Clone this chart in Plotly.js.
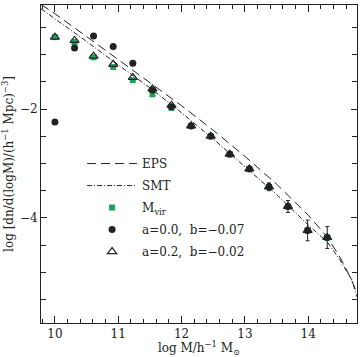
<!DOCTYPE html>
<html><head><meta charset="utf-8">
<script src="https://cdn.plot.ly/plotly-3.0.1.min.js"></script>
<style>body{margin:0;background:#fff}#c{width:363px;height:357px}</style>
</head><body><div id="c"></div>
<script>
// data
const massBins = [10.0, 10.31, 10.61, 10.92, 11.23, 11.54, 11.84, 12.15, 12.46, 12.76, 13.07, 13.38, 13.68, 13.99, 14.30];
const mvirVals = [-0.68, -0.77, -1.05, -1.23, -1.47, -1.73, -1.98, -2.31, -2.50, -2.83, -3.10, -3.43, -3.79, -4.23, -4.36];
const circVals = [-2.24, -0.88, -0.66, -0.85, -1.16, -1.65, -1.96, -2.31, -2.50, -2.83, -3.10, -3.43, -3.79, -4.23, -4.36];
const triVals  = [-0.68, -0.74, -1.03, -1.18, -1.42, -1.63, -1.93, -2.31, -2.50, -2.83, -3.10, -3.43, -3.79, -4.23, -4.36];
const errVals  = [0, 0, 0, 0, 0, 0, 0, 0, 0, 0, 0, 0.07, 0.11, 0.19, 0.20];

const epsX = [9.78, 10.0, 10.5, 11.0, 11.5, 12.0, 12.5, 13.0, 13.5, 14.0, 14.3, 14.5, 14.66, 14.77];
const epsY = [-0.08, -0.25, -0.67, -1.09, -1.51, -1.94, -2.39, -2.87, -3.38, -3.95, -4.35, -4.72, -5.08, -5.38];
const smtX = [9.78, 10.0, 10.5, 11.0, 11.5, 12.0, 12.5, 13.0, 13.5, 14.0, 14.3, 14.5, 14.69, 14.77];
const smtY = [-0.16, -0.34, -0.76, -1.19, -1.61, -2.07, -2.55, -3.06, -3.57, -4.13, -4.44, -4.77, -5.14, -5.45];

const xTickVals = [10, 11, 12, 13, 14];
const yTickVals = [-4, -2];
const yTickText = ['\u22124', '\u22122'];

const ink = '#222';
const green = '#1fa35a';
const font = 'DejaVu Serif';

const traces = [
  {x: epsX, y: epsY, mode: 'lines', name: 'EPS', legendgroup: 'a', legendrank: 1,
   line: {color: ink, width: 1, dash: '9px,5px'}},
  {x: smtX, y: smtY, mode: 'lines', name: 'SMT', legendgroup: 'b', legendrank: 2,
   line: {color: ink, width: 1, dash: '5px,2px,1px,2px'}},
  {x: massBins, y: mvirVals, mode: 'markers', name: 'M<sub>vir</sub>', legendgroup: 'c', legendrank: 3,
   marker: {symbol: 'square', size: 6, color: green}},
  {x: massBins, y: triVals, mode: 'markers', name: 'a=0.2,  b=\u22120.02', legendgroup: 'e', legendrank: 5,
   marker: {symbol: 'triangle-up-open', size: 8, color: ink, line: {width: 1.2}}},
  {x: massBins, y: circVals, mode: 'markers', name: 'a=0.0,  b=\u22120.07', legendgroup: 'd', legendrank: 4,
   marker: {symbol: 'circle', size: 7, color: ink},
   error_y: {type: 'data', array: errVals, visible: true, color: ink, thickness: 1, width: 2}}
];

const layout = {
  width: 363, height: 357,
  margin: {l: 41, r: 6, t: 5, b: 34},
  paper_bgcolor: '#fff', plot_bgcolor: '#fff',
  font: {family: font, size: 12, color: ink},
  showlegend: true,
  legend: {x: 0.13, y: 0.547, xanchor: 'left', yanchor: 'top',
           bgcolor: 'rgba(0,0,0,0)', font: {family: font, size: 12, color: ink},
           itemwidth: 50, traceorder: 'grouped', tracegroupgap: 3, itemsizing: 'trace'},
  xaxis: {range: [9.78, 14.77], showgrid: false, zeroline: false,
          showline: true, linecolor: ink, linewidth: 1, mirror: 'allticks',
          ticks: 'inside', ticklen: 7, tickcolor: ink, tickvals: xTickVals,
          tickfont: {family: font, size: 12, color: ink},
          minor: {dtick: 0.2, tick0: 10, ticks: 'inside', ticklen: 4, tickcolor: ink, showgrid: false},
          title: {text: 'log M/h<sup>\u22121</sup> M<sub>\u2299</sub>', standoff: 4,
                  font: {family: font, size: 12, color: ink}}},
  yaxis: {range: [-5.93, -0.09], showgrid: false, zeroline: false,
          showline: true, linecolor: ink, linewidth: 1, mirror: 'allticks',
          ticks: 'inside', ticklen: 6, tickcolor: ink,
          tickmode: 'array', tickvals: yTickVals, ticktext: yTickText,
          tickfont: {family: font, size: 12, color: ink},
          minor: {dtick: 0.5, tick0: 0, ticks: 'inside', ticklen: 5, tickcolor: ink, showgrid: false},
          title: {text: 'log [dn/d(logM)/(h<sup>\u22121</sup> Mpc)<sup>\u22123</sup>]', standoff: 6,
                  font: {family: font, size: 12, color: ink}}}
};
Plotly.newPlot('c', traces, layout, {displayModeBar: false, staticPlot: true});
</script></body></html>
